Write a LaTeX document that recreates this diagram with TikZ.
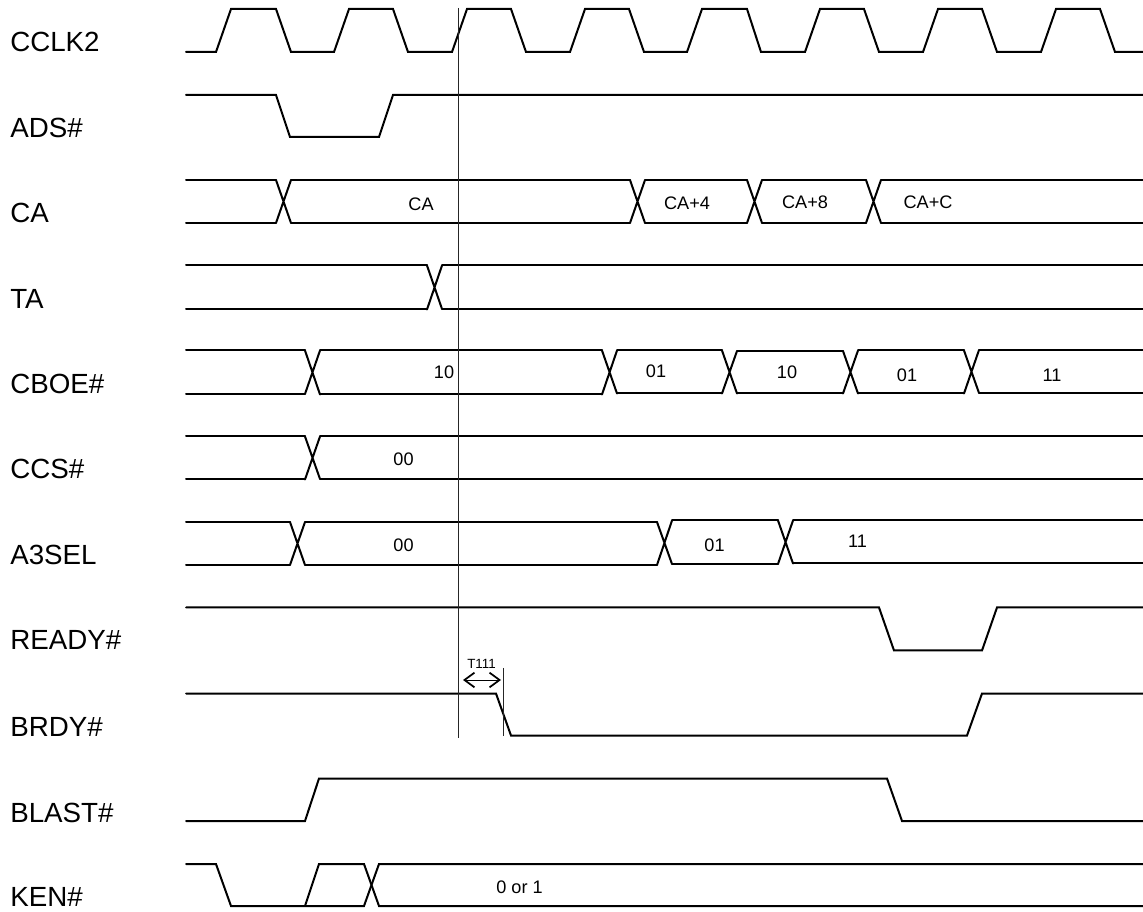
\documentclass[tikz,border=0pt]{standalone}
\usepackage{fontspec}
\setmainfont{Liberation Sans}
\usetikzlibrary{arrows.meta}
\tikzset{
  sig/.style={line width=1.5pt,black,line cap=round,line join=miter},
  thin mark/.style={line width=0.7pt,black!85},
  name label/.style={anchor=base west,inner sep=0pt,font=\fontsize{20.8}{24}\selectfont},
  val label/.style={anchor=base,inner sep=0pt,font=\fontsize{13.6}{16}\selectfont},
  small label/.style={anchor=base,inner sep=0pt,font=\fontsize{10}{12}\selectfont},
  span/.style={line width=0.6pt,{Straight Barb[length=7.5pt,width=11pt,line width=1.3pt]}-{Straight Barb[length=7.5pt,width=11pt,line width=1.3pt]}}
}
% bus: initial top, initial bottom, list of crossing/top/bottom; entry at 1143 closes the line
\newcommand\busline[3]{%
  \foreach \cx/\ct/\cb [remember=\cx as \lx (initially 171),
                        remember=\ct as \lt (initially #1),
                        remember=\cb as \lb (initially #2)] in {#3}{%
    \draw[sig] (\lx+15,\lt) -- (\cx,\lt) (\lx+15,\lb) -- (\cx,\lb);
    \ifdim\cx pt<1143pt
      \draw[sig] (\cx,\lt) -- (\cx+15,\cb) (\cx,\lb) -- (\cx+15,\ct);
    \fi
  }%
}
\begin{document}
\begin{tikzpicture}[x=0.75pt,y=-0.75pt]
\useasboundingbox (0,0) rectangle (1143,912);
% signal names
\node[name label] (nCCLK)  at (10,52)  {CCLK2};
\node[name label] (nADS)   at (10,138) {ADS\#};
\node[name label] (nCA)    at (10,223) {CA};
\node[name label] (nTA)    at (10,309) {TA};
\node[name label] (nCBOE)  at (10,394) {CBOE\#};
\node[name label] (nCCS)   at (10,479) {CCS\#};
\node[name label] (nA3SEL) at (10,565) {A3SEL};
\node[name label] (nREADY) at (10,650) {READY\#};
\node[name label] (nBRDY)  at (10,736) {BRDY\#};
\node[name label] (nBLAST) at (10,822) {BLAST\#};
\node[name label] (nKEN)   at (10,906) {KEN\#};
% clock
\draw[sig] (186,52) -- (216,52) -- (231,9) -- (276,9) -- (291,52)
  -- (334,52) -- (349,9) -- (393,9) -- (408,52)
  -- (452,52) -- (467,9) -- (511,9) -- (526,52)
  -- (570,52) -- (585,9) -- (629,9) -- (644,52)
  -- (687,52) -- (702,9) -- (747,9) -- (761,52)
  -- (805,52) -- (820,9) -- (864,9) -- (879,52)
  -- (923,52) -- (938,9) -- (982,9) -- (997,52)
  -- (1041,52) -- (1056,9) -- (1100,9) -- (1115,52) -- (1143,52);
% ADS#
\draw[sig] (186,95) -- (276,95) -- (290,137) -- (379,137) -- (393,95) -- (1143,95);
% buses
\busline{180}{223}{276/180/223,630/180/223,747/180/223,866/180/223,1143/180/223}
\busline{265.5}{309.5}{427/265.5/309,1143/265.5/309}
\busline{350.5}{394}{305/350.5/394.5,602/350.5/393.5,722/351/393.5,843/350.5/393.5,964/350/393,1143/350/393}
\busline{436.5}{479.5}{305/436.5/479,1143/436.5/479}
\busline{522}{565}{290/522/565,657/520.5/564,778/520.5/563.5,1143/520.5/563.5}
% READY#
\draw[sig] (186,607.5) -- (879,607.5) -- (894,650.5) -- (982,650.5) -- (997,607.5) -- (1143,607.5);
% BRDY#
\draw[sig] (186,693.5) -- (496,693.5) -- (511,735.5) -- (967,735.5) -- (982,693.5) -- (1143,693.5);
% BLAST#
\draw[sig] (186,821) -- (305,821) -- (319,778.5) -- (887,778.5) -- (902,821) -- (1143,821);
% KEN#
\draw[sig] (186,864) -- (216,864) -- (231,906) -- (364,906) -- (379,864) -- (1143,864);
\draw[sig] (305,906) -- (319,864) -- (364,864) -- (379,906) -- (1143,906);
% values
\node[val label] (vCA)  at (421,211)   {CA};
\node[val label] (vCA4) at (687,210)   {CA+4};
\node[val label] (vCA8) at (805,209)   {CA+8};
\node[val label] (vCAC) at (928,209)   {CA+C};
\node[val label] (vB1)  at (444,379)   {10};
\node[val label] (vB2)  at (656,378)   {01};
\node[val label] (vB3)  at (787,379)   {10};
\node[val label] (vB4)  at (907,382)   {01};
\node[val label] (vB5)  at (1052,382)  {11};
\node[val label] (vC1)  at (403.5,466) {00};
\node[val label] (vA1)  at (403.5,552) {00};
\node[val label] (vA2)  at (714.5,552) {01};
\node[val label] (vA3)  at (857.5,548) {11};
\node[val label] (vK)   at (519.5,893) {0 or 1};
% timing marks
\coordinate (m1t) at (458.7,8);
\coordinate (m1b) at (458.7,738);
\coordinate (m2t) at (503.5,668);
\coordinate (m2b) at (503.5,736);
\draw[thin mark] (m1t) -- (m1b);
\draw[thin mark] (m2t) -- (m2b);
\coordinate (sa) at (463,680);
\coordinate (sb) at (501,680);
\draw[span] (sa) -- (sb);
\node[small label] (t111) at (481.5,668) {T111};
\end{tikzpicture}
\end{document}
